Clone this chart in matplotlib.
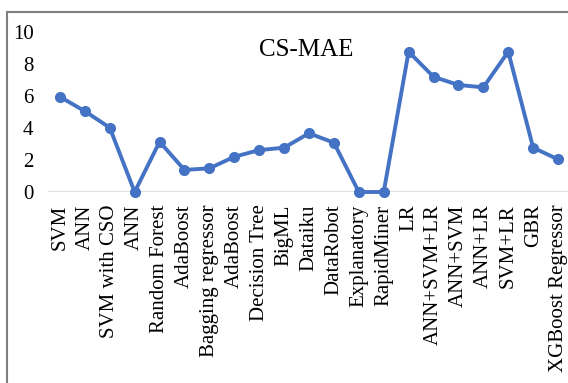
import matplotlib
matplotlib.use("Agg")
import matplotlib.pyplot as plt
from matplotlib.patches import Rectangle

plt.rcParams['font.family'] = ['Liberation Serif', 'DejaVu Serif']

models = ['SVM', 'ANN', 'SVM with CSO', 'ANN', 'Random Forest', 'AdaBoost',
          'Bagging regressor', 'AdaBoost', 'Decision Tree', 'BigML', 'Dataiku',
          'DataRobot', 'Explanatory', 'RapidMiner', 'LR', 'ANN+SVM+LR',
          'ANN+SVM', 'ANN+LR', 'SVM+LR', 'GBR', 'XGBoost Regressor']
cs_mae = [5.95, 5.05, 4.02, 0.0, 3.14, 1.38, 1.48, 2.2, 2.62, 2.77, 3.67,
          3.08, 0.0, 0.0, 8.77, 7.2, 6.69, 6.54, 8.77, 2.77, 2.04]
yticks = [0, 2, 4, 6, 8, 10]

W, H = 568, 383
fig = plt.figure(figsize=(W / 100, H / 100), dpi=100)

# plot area runs a little past the right edge of the figure
ax = fig.add_axes([47.5 / W, (H - 192) / H, 523 / W, 160 / H])
x = list(range(len(models)))
ax.plot(x, cs_mae, color='#4472C4', lw=2.8, marker='o', ms=7,
        clip_on=False, zorder=3)
ax.axhline(0, color='#d9d9d9', lw=1.2, zorder=1)

ax.set_xlim(-0.5, len(models) - 0.5)
ax.set_ylim(0, 10)
ax.set_yticks(yticks)
ax.set_yticklabels([str(v) for v in yticks], fontsize=15)
ax.set_xticks(x)
ax.set_xticklabels(models, rotation=90, fontsize=15)
ax.tick_params(axis='both', length=0)
ax.tick_params(axis='y', pad=10)
ax.tick_params(axis='x', pad=9)
for s in ax.spines.values():
    s.set_visible(False)

fig.text(306 / W, 1 - 50 / H, 'CS-MAE', fontsize=18, ha='center', va='center')

# outer frame around the chart
frame = Rectangle((7 / W, -0.1), 1.2, (H - 12) / H + 0.1, transform=fig.transFigure,
                  fill=False, edgecolor='#808080', lw=1.5)
fig.patches.append(frame)

fig.savefig('out.png', dpi=100)
